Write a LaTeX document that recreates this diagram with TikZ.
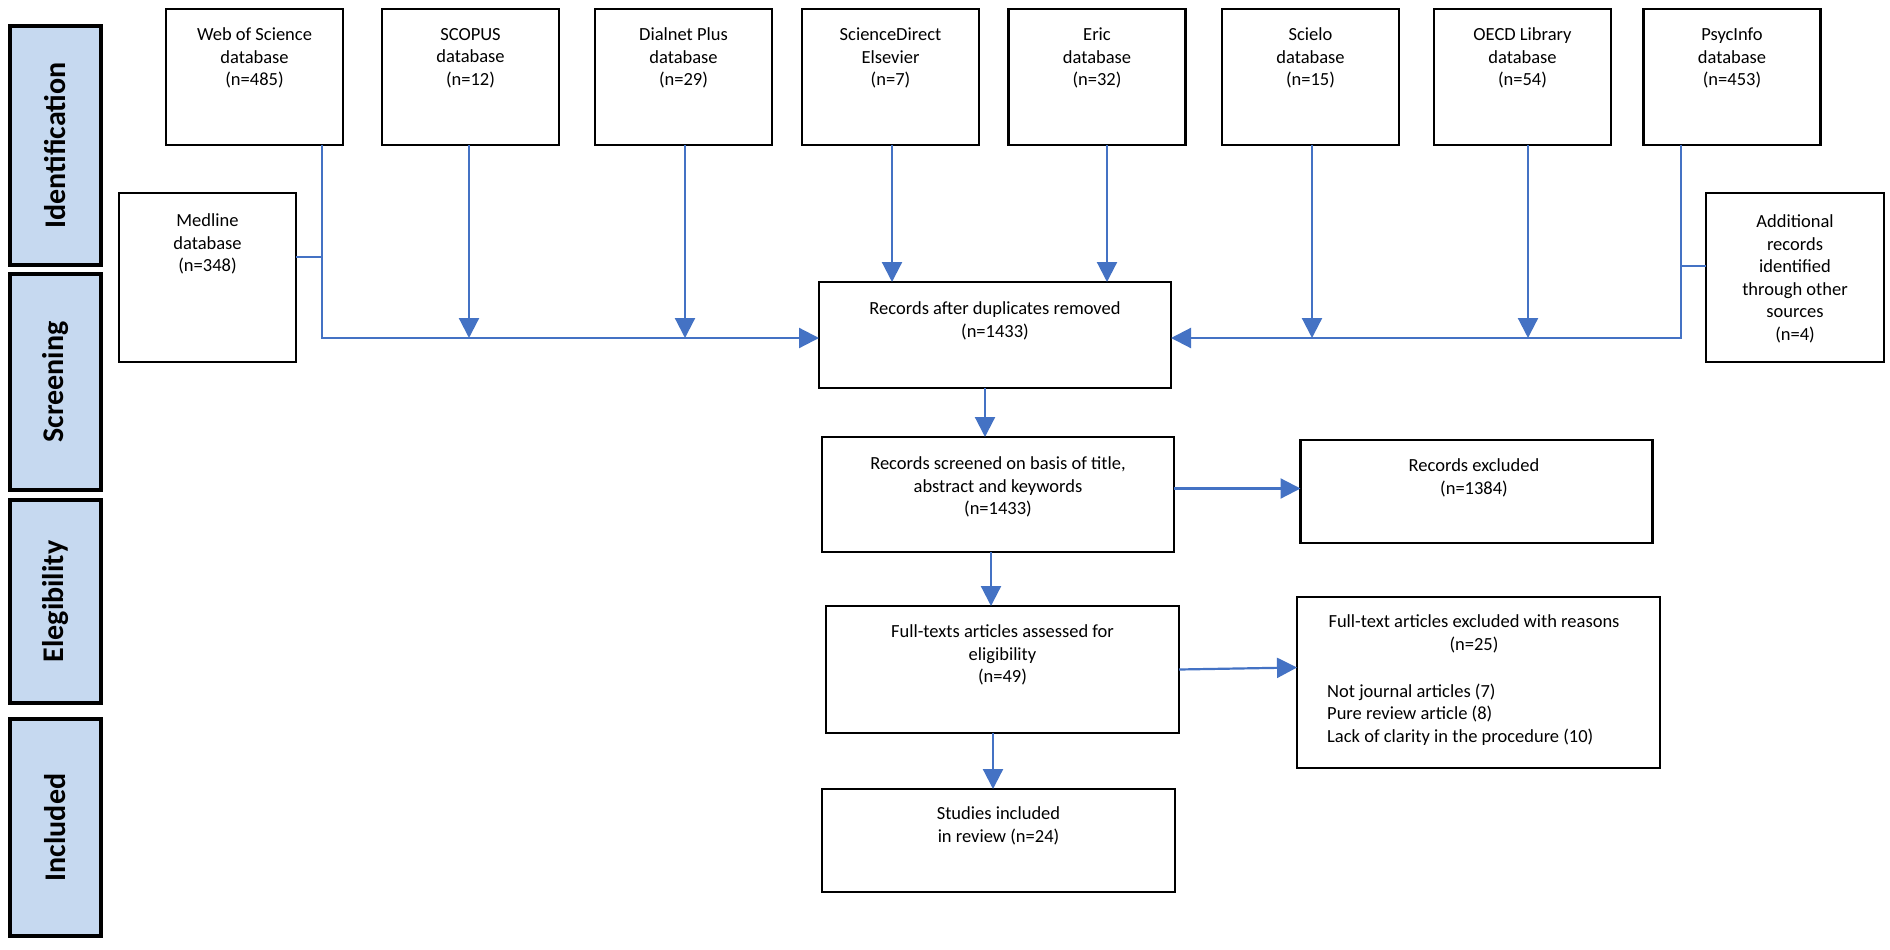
\documentclass[tikz,border=0pt]{standalone}
\usepackage{fontspec}
\setmainfont{Carlito}
\usetikzlibrary{arrows.meta}
\definecolor{lblue}{HTML}{C6D9F0}
\definecolor{ablue}{HTML}{4472C4}
\begin{document}
\begin{tikzpicture}[x=1pt,y=-1pt,
  box/.style={draw=black, line width=2.4pt, rectangle, inner sep=0pt, outer sep=0pt, fill=white},
  stage/.style={draw=black, line width=4pt, rectangle, fill=lblue, inner sep=0pt, outer sep=0pt, minimum width=91pt},
  stagetxt/.style={rotate=90, font=\fontsize{30}{36}\selectfont\bfseries, inner sep=0pt},
  txt/.style={align=center, font=\fontsize{18.5}{22.5}\selectfont, inner sep=0pt},
  conn/.style={draw=ablue, line width=2.2pt},
  arr/.style={conn, -{Triangle[length=20pt,width=20pt]}},
]
\useasboundingbox[fill=white] (0,0) rectangle (1890,950);

% stage labels
\node[stage, minimum height=239pt] (sid) at (55.5,145.5) {};
\node[stagetxt] (sidt) at (sid.center) {Identification};
\node[stage, minimum height=216pt] (sscr) at (55.5,382) {};
\node[stagetxt] (sscrt) at (sscr.center) {Screening};
\node[stage, minimum height=203pt] (sele) at (55.5,601.5) {};
\node[stagetxt] (selet) at (sele.center) {Elegibility};
\node[stage, minimum height=217pt] (sinc) at (55.5,827.5) {};
\node[stagetxt] (sinct) at (sinc.center) {Included};

% top database boxes
\node[box, minimum width=177pt, minimum height=136pt] (wos) at (254.5,77) {};
\node[txt] (wost) at (254.5,58) {Web of Science\\database\\(n=485)};
\node[box, minimum width=177pt, minimum height=136pt] (scopus) at (470.5,77) {};
\node[txt] (scopust) at (470.5,58) {SCOPUS\\database\\(n=12)};
\node[box, minimum width=177pt, minimum height=136pt] (dialnet) at (683.5,77) {};
\node[txt] (dialnett) at (683.5,58) {Dialnet Plus\\database\\(n=29)};
\node[box, minimum width=177pt, minimum height=136pt] (sd) at (890.5,77) {};
\node[txt] (sdt) at (890.5,58) {ScienceDirect\\Elsevier\\(n=7)};
\node[box, minimum width=177pt, minimum height=136pt] (eric) at (1097,77) {};
\node[txt] (erict) at (1097,58) {Eric\\database\\(n=32)};
\node[box, minimum width=177pt, minimum height=136pt] (scielo) at (1310.5,77) {};
\node[txt] (scielot) at (1310.5,58) {Scielo\\database\\(n=15)};
\node[box, minimum width=177pt, minimum height=136pt] (oecd) at (1522.5,77) {};
\node[txt] (oecdt) at (1522.5,58) {OECD Library\\database\\(n=54)};
\node[box, minimum width=177pt, minimum height=136pt] (psyc) at (1732,77) {};
\node[txt] (psyct) at (1732,58) {PsycInfo\\database\\(n=453)};

% side boxes
\node[box, minimum width=177pt, minimum height=169pt] (medline) at (207.5,277.5) {};
\node[txt] (medlinet) at (207.5,244) {Medline\\database\\(n=348)};
\node[box, minimum width=178pt, minimum height=169pt] (addl) at (1795,277.5) {};
\node[txt] (addlt) at (1795,279) {Additional\\records\\identified\\through other\\sources\\(n=4)};

% main flow
\node[box, minimum width=352pt, minimum height=106pt] (dup) at (995,335) {};
\node[txt] (dupt) at (995,321) {Records after duplicates removed\\(n=1433)};
\node[box, minimum width=352pt, minimum height=115pt] (scr) at (998,494.5) {};
\node[txt] (scrt) at (998,487) {Records screened on basis of title,\\abstract and keywords\\(n=1433)};
\node[box, minimum width=352pt, minimum height=103pt] (excl) at (1476.5,491.5) {};
\node[txt] (exclt) at (1474,478) {Records excluded\\(n=1384)};
\node[box, minimum width=353pt, minimum height=127pt] (full) at (1002.5,669.5) {};
\node[txt] (fullt) at (1002.5,655) {Full-texts articles assessed for\\eligibility\\(n=49)};
\node[box, minimum width=363pt, minimum height=171pt] (ftex) at (1478.5,682.5) {};
\node[txt] (ftext) at (1474,634) {Full-text articles excluded with reasons\\(n=25)};
\node[txt, align=left, anchor=west] (ftexl) at (1327,714.5) {Not journal articles (7)\\Pure review article (8)\\Lack of clarity in the procedure (10)};
\node[box, minimum width=353pt, minimum height=103pt] (stud) at (998.5,840.5) {};
\node[txt] (studt) at (998.5,826) {Studies included\\in review (n=24)};

% connectors
\coordinate (hl) at ([yshift=-3pt]dup.west);
\coordinate (hr) at ([yshift=-3pt]dup.east);
\draw[arr] ([xshift=67.5pt]wos.south) |- (hl);
\draw[conn] ([yshift=20.5pt]medline.east) -- ++(26,0);
\draw[arr] ([xshift=-1.5pt]scopus.south) coordinate (c2) -- (c2 |- hl);
\draw[arr] ([xshift=1.5pt]dialnet.south) coordinate (c3) -- (c3 |- hl);
\draw[arr] ([xshift=1.5pt]sd.south) coordinate (c4) -- (c4 |- dup.north);
\draw[arr] ([xshift=10pt]eric.south) coordinate (c5) -- (c5 |- dup.north);
\draw[arr] ([xshift=1.5pt]scielo.south) coordinate (c6) -- (c6 |- hl);
\draw[arr] ([xshift=5.5pt]oecd.south) coordinate (c7) -- (c7 |- hl);
\draw[arr] ([xshift=-51pt]psyc.south) |- (hr);
\draw[conn] ([yshift=11.5pt]addl.west) -- ++(-25,0);

\draw[arr] ([xshift=-10pt]dup.south) coordinate (d1) -- (d1 |- scr.north);
\draw[arr] ([yshift=6pt]scr.east) coordinate (d2) -- (d2 -| excl.west);
\draw[arr] ([xshift=-7pt]scr.south) coordinate (d3) -- (d3 |- full.north);
\draw[arr] (full.east) -- ([yshift=2pt]full.east -| ftex.west);
\draw[arr] ([xshift=-9.5pt]full.south) coordinate (d4) -- (d4 |- stud.north);
\end{tikzpicture}
\end{document}
